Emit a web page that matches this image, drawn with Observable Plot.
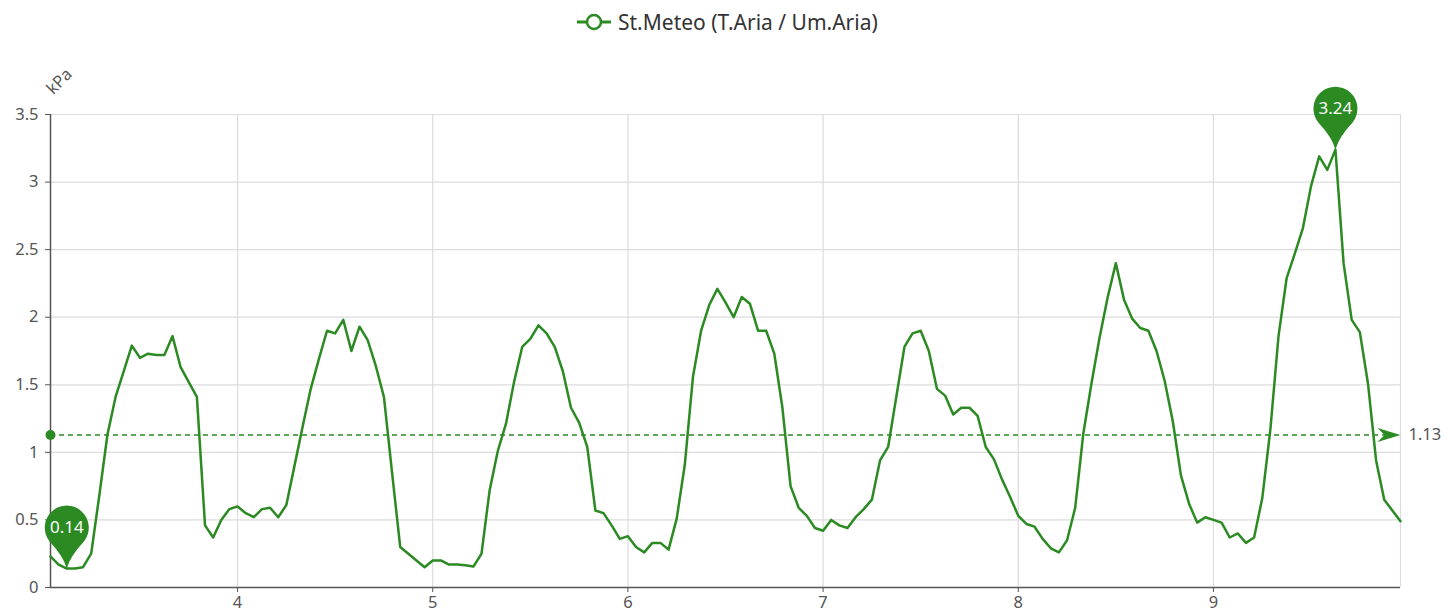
<!DOCTYPE html>
<html><head><meta charset="utf-8">
<script src="https://cdn.jsdelivr.net/npm/d3@7"></script>
<script src="https://cdn.jsdelivr.net/npm/@observablehq/plot@0.6"></script>
<style>
body{margin:0;background:#fff;font-family:"Noto Sans","Open Sans",sans-serif;}
#legend{position:relative;height:45px;}
#legend .item{position:absolute;left:577px;top:8px;display:flex;align-items:center;font-size:21px;color:#333;}
#legend svg{margin-right:7px;}
#chart svg{display:block;}
</style></head><body>
<div id="legend"><div class="item"><svg width="34" height="20"><line x1="0" y1="10" x2="34" y2="10" stroke="#2b8a22" stroke-width="3"/><circle cx="17" cy="10" r="7" fill="#fff" stroke="#2b8a22" stroke-width="2.5"/></svg><span id="lgtext"></span></div></div>
<div id="chart"></div>
<script>
const seriesName = "St.Meteo (T.Aria / Um.Aria)";
const unit = "kPa";
// hourly values; day 3 starts at hour 1, the other days at hour 0
const dayNumbers = [3, 4, 5, 6, 7, 8, 9];
const dayStartHours = [1, 0, 0, 0, 0, 0, 0];
const day3 = [0.23,0.17,0.14,0.14,0.15,0.25,0.68,1.13,1.41,1.60,1.79,1.70,1.73,1.72,1.72,1.86,1.63,1.52,1.41,0.46,0.37,0.50,0.58];
const day4 = [0.60,0.55,0.52,0.58,0.59,0.52,0.61,0.90,1.19,1.47,1.69,1.90,1.88,1.98,1.75,1.93,1.83,1.64,1.41,0.85,0.30,0.25,0.20,0.15];
const day5 = [0.20,0.20,0.17,0.17,0.165,0.155,0.25,0.72,1.01,1.21,1.52,1.78,1.84,1.94,1.88,1.78,1.60,1.33,1.22,1.04,0.57,0.55,0.46,0.36];
const day6 = [0.38,0.30,0.26,0.33,0.33,0.28,0.51,0.91,1.56,1.90,2.09,2.21,2.11,2.00,2.15,2.10,1.90,1.90,1.73,1.33,0.75,0.59,0.53,0.44];
const day7 = [0.42,0.50,0.46,0.44,0.52,0.58,0.65,0.94,1.04,1.41,1.78,1.88,1.90,1.75,1.47,1.42,1.28,1.33,1.33,1.27,1.04,0.95,0.80,0.67];
const day8 = [0.53,0.47,0.45,0.36,0.29,0.26,0.35,0.59,1.14,1.51,1.85,2.15,2.40,2.13,1.99,1.92,1.90,1.75,1.53,1.23,0.83,0.62,0.48,0.52];
const day9 = [0.50,0.48,0.37,0.40,0.33,0.37,0.66,1.17,1.86,2.29,2.47,2.66,2.97,3.19,3.09,3.24,2.40,1.98,1.89,1.51,0.94,0.65,0.57,0.49];
const xTicks = [4, 5, 6, 7, 8, 9];
const yTicks = [0, 0.5, 1, 1.5, 2, 2.5, 3, 3.5];

const dayValues = [day3, day4, day5, day6, day7, day8, day9];
const data = [];
dayValues.forEach((vals, i) => {
  vals.forEach((v, j) => data.push({x: dayNumbers[i] + (dayStartHours[i] + j) / 24, y: v}));
});
const xMin = d3.min(data, d => d.x), xMax = d3.max(data, d => d.x);
const mean = d3.mean(data, d => d.y);
const maxPt = data[d3.maxIndex(data, d => d.y)];
const minPt = data[d3.minIndex(data, d => d.y)];
const pins = [maxPt, minPt];

document.getElementById("lgtext").textContent = seriesName;

const green = "#2b8a22";
const grid = "#dcdcdc";
const axisColor = "#555";

const pin = {draw(ctx) {
  const r = 22, h = 41, t = Math.PI * 38 / 180;
  ctx.moveTo(0, 0);
  ctx.quadraticCurveTo(-3, -12, -r * Math.cos(t), -h + r * Math.sin(t));
  ctx.arc(0, -h, r, Math.PI - t, t, false);
  ctx.quadraticCurveTo(3, -12, 0, 0);
  ctx.closePath();
}};
const arrow = {draw(ctx) {
  ctx.moveTo(0, 0);
  ctx.lineTo(-23, -7);
  ctx.lineTo(-16, 0);
  ctx.lineTo(-23, 7);
  ctx.closePath();
}};

const chart = Plot.plot({
  width: 1446,
  height: 568,
  marginLeft: 50,
  marginRight: 46,
  marginTop: 69,
  marginBottom: 26,
  style: {fontFamily: '"Noto Sans","Open Sans",sans-serif', color: axisColor, background: "#fff", overflow: "visible"},
  x: {domain: [xMin, xMax]},
  y: {domain: [0, 3.5]},
  marks: [
    Plot.ruleY(yTicks.slice(1), {stroke: grid, strokeWidth: 1.2}),
    Plot.ruleX([...xTicks, xMax], {y1: 0, y2: 3.5, stroke: grid, strokeWidth: 1.2}),
    Plot.axisY(yTicks, {tickSize: 5, tickPadding: 7, fontSize: 16.5, tickFormat: d => String(d), label: null, stroke: axisColor, fill: axisColor}),
    Plot.axisX(xTicks, {tickSize: 5, tickPadding: 4, fontSize: 16.5, tickFormat: d => String(d), label: null, stroke: axisColor, fill: axisColor}),
    Plot.ruleX([xMin], {y1: 0, y2: 3.5, stroke: axisColor, strokeWidth: 1.5}),
    Plot.ruleY([0], {stroke: axisColor, strokeWidth: 1.5}),
    Plot.text([unit], {x: xMin, y: 3.5, dx: 9, dy: -33, rotate: -45, fontSize: 16.5, fill: axisColor, text: d => d}),
    Plot.ruleY([mean], {x1: xMin, x2: xMax, stroke: green, strokeWidth: 1.5, strokeDasharray: "5,4"}),
    Plot.dot([mean], {x: () => xMin, y: d => d, r: 5, fill: green, stroke: "none"}),
    Plot.dot([mean], {x: () => xMax, y: d => d, symbol: arrow, fill: green, stroke: "none"}),
    Plot.text([mean], {x: () => xMax, y: d => d, text: d => d.toFixed(2), dx: 8, textAnchor: "start", fontSize: 16.5, fill: axisColor}),
    Plot.line(data, {x: "x", y: "y", stroke: green, strokeWidth: 2.5, strokeLinejoin: "round"}),
    Plot.dot(pins, {x: "x", y: "y", symbol: pin, fill: green, stroke: "none"}),
    Plot.text(pins, {x: "x", y: "y", text: d => d.y.toFixed(2), dy: -41, fill: "#fff", fontSize: 17})
  ]
});
document.getElementById("chart").appendChild(chart);
</script>
</body></html>
